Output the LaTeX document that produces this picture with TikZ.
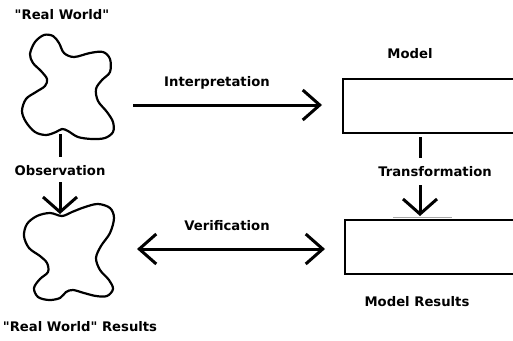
\documentclass[tikz,border=0pt]{standalone}
\usepackage{fontspec}
\setmainfont{DejaVu Sans}[Ligatures=TeXOff]
\usetikzlibrary{arrows.meta}
\begin{document}
\begin{tikzpicture}[x=1pt,y=-1pt,
  lbl/.style={font=\fontsize{13.2pt}{15pt}\selectfont\bfseries, inner sep=0pt},
  blob/.style={line width=2.2pt, line join=round},
  conn/.style={line width=3pt},
  barb/.tip={Straight Barb[length=17pt,width=30pt,line width=3pt]},
  vbarb/.tip={Straight Barb[length=15pt,width=34pt,line width=3pt]},
  boxnode/.style={draw, line width=2pt, inner sep=0pt, anchor=north west}]
\useasboundingbox (0,0) rectangle (513,340);
\clip (0,0) rectangle (513,340);
\fill[white] (0,0) rectangle (513,340);
% blob 1
\draw[blob] plot[smooth cycle, tension=0.55] coordinates {
 (30,54) (35,42) (44,35) (53,36) (59,43) (64,53) (74,57) (90,53) (103,52) (110,59)
 (110,72) (102,80) (96,89) (98,101) (107,112) (113,122) (113,132) (105,138) (92,139)
 (78,137) (68,131) (62,129) (56,132) (46,135) (35,132) (26,122) (22,111) (26,99)
 (36,92) (45,86) (47,79) (41,71) (33,63)};
% blob 2
\draw[blob] plot[smooth cycle, tension=0.55] coordinates {
 (62,216) (72,212) (85,207) (98,204) (110,208) (114,218) (110,233) (101,246) (96,258)
 (100,270) (109,280) (113,289) (107,296) (96,296) (84,293) (73,290) (66,292) (60,298)
 (49,300) (38,297) (34,288) (40,279) (48,272) (47,263) (40,256) (29,248) (24,236)
 (27,224) (37,216) (50,213)};
% boxes
\node[boxnode, minimum width=190pt, minimum height=54pt] (model) at (342,78) {};
\node[boxnode, minimum width=190pt, minimum height=54pt] (results) at (344,219) {};
\draw[gray!70, line width=0.8pt] (393,217.5) -- (452,217.5);
% labels
\node[lbl] (rw) at (62,15) {"Real World"};
\node[lbl] (obs) at (60,171) {Observation};
\node[lbl] (rwr) at (80,327) {"Real World" Results};
\node[lbl] (interp) at (217,83) {Interpretation};
\node[lbl] (modl) at (410,54) {Model};
\node[lbl] (trans) at (435,172) {Transformation};
\node[lbl] (verif) at (227,226) {Verification};
\node[lbl] (mres) at (417,302) {Model Results};
% coordinates
\coordinate (s1a) at (60,134); \coordinate (s1b) at (60,157);
\coordinate (a1a) at (60,182); \coordinate (a1b) at (60,214);
\coordinate (s2a) at (420,137); \coordinate (s2b) at (420,158);
\coordinate (a2a) at (420,185); \coordinate (a2b) at (420,216);
\coordinate (i1) at (133,105); \coordinate (i2) at (322,105);
\coordinate (v1) at (137,249); \coordinate (v2) at (325,249);
% connectors
\draw[conn] (s1a) -- (s1b);
\draw[conn, -vbarb] (a1a) -- (a1b);
\draw[conn] (s2a) -- (s2b);
\draw[conn, -vbarb] (a2a) -- (a2b);
\draw[conn, -barb] (i1) -- (i2);
\draw[conn, barb-barb] (v1) -- (v2);
\end{tikzpicture}
\end{document}
